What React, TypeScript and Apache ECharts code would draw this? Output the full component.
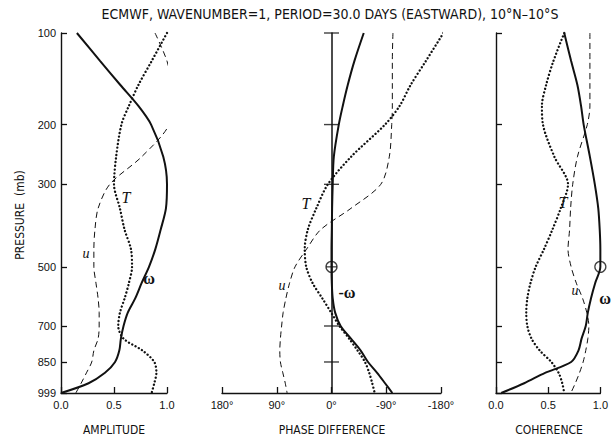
import React, { useEffect, useRef } from 'react';
import * as echarts from 'echarts';

// pressure levels (mb) at which curves were read
const PRESSURE = [100, 125, 150, 175, 200, 250, 300, 350, 400, 450, 500, 550, 600, 650, 700, 750, 800, 850, 900, 950, 999];
const PRESSURE_TICKS = [100, 200, 300, 500, 700, 850, 999];
const PHASE_BAR_TICKS = [100, 200, 300, 700, 850];
const REF_LEVEL = [500];

// AMPLITUDE
const ampOmega = [0.15, 0.37, 0.56, 0.73, 0.85, 0.965, 1.0, 0.99, 0.94, 0.89, 0.83, 0.76, 0.7, 0.63, 0.59, 0.565, 0.55, 0.51, 0.415, 0.26, 0.0];
const ampT = [1.0, 0.855, 0.73, 0.64, 0.57, 0.52, 0.5, 0.556, 0.6, 0.66, 0.67, 0.64, 0.6, 0.556, 0.54, 0.59, 0.77, 0.88, 0.9, 0.88, 0.855];
const ampU = [0.887, 1.0, 1.04, 1.04, 1.02, 0.76, 0.46, 0.35, 0.32, 0.31, 0.31, 0.33, 0.35, 0.36, 0.36, 0.35, 0.31, 0.29, 0.24, 0.19, 0.14];

// PHASE DIFFERENCE (degrees)
const phOmega = [-53, -37.6, -26.7, -18.5, -12, -3.8, -2, -1, -0.5, 0, 0, -0.5, -2, -6, -15, -32, -48, -60, -75, -88, -100];
const phT = [-184, -155, -130, -112, -88, -32, 6, 25, 39, 44, 41.5, 31, 15, 0.5, -13, -29, -43, -55, -62, -67, -71];
const phU = [-101, -100, -100, -100, -99, -95, -81, -32, 18, 41, 60, 69, 75, 79.5, 82, 84, 85, 84, 80, 76, 73];

// COHERENCE
const cohOmega = [0.654, 0.72, 0.78, 0.815, 0.84, 0.9, 0.947, 0.98, 0.994, 1.0, 1.0, 0.95, 0.91, 0.88, 0.86, 0.82, 0.79, 0.72, 0.47, 0.27, 0.05];
const cohT = [0.654, 0.55, 0.48, 0.44, 0.45, 0.56, 0.69, 0.62, 0.54, 0.46, 0.38, 0.33, 0.3, 0.29, 0.3, 0.34, 0.42, 0.53, 0.6, 0.635, 0.654];
const cohU = [0.9, 0.9, 0.9, 0.9, 0.875, 0.78, 0.735, 0.715, 0.705, 0.69, 0.72, 0.77, 0.83, 0.87, 0.89, 0.88, 0.86, 0.835, 0.8, 0.76, 0.717];

const AMP_TICKS = [0, 0.5, 1];
const PHASE_TICKS = [180, 90, 0, -90, -180];

const TITLE = 'ECMWF, WAVENUMBER=1, PERIOD=30.0 DAYS (EASTWARD), 10°N–10°S';

// vertical scale of the original figure: p^0.2
const kp = (p: number) => Math.pow(p, 0.2);
const Y_MIN = kp(100);
const Y_MAX = kp(999);

const INK = '#111';
const SANS = "'Liberation Sans Narrow', 'DejaVu Sans Condensed', 'Liberation Sans', Arial, sans-serif";
const LABEL_FONT = "'Liberation Sans', Arial, sans-serif";
const SERIF = "'Liberation Serif', 'DejaVu Serif', serif";

const solid = { type: 'solid', width: 2, color: INK };
const dashed = { type: [6, 4], width: 1, color: INK };
const dotted = { type: [0.1, 3.6], width: 2.3, cap: 'round', color: INK };

function curve(grid: number, vals: number[], style: any) {
  return {
    type: 'line',
    xAxisIndex: grid,
    yAxisIndex: grid,
    data: PRESSURE.map((p, i) => [vals[i], kp(p)]),
    showSymbol: false,
    smooth: 0.3,
    clip: false,
    lineStyle: style,
    silent: true,
  };
}

function yAxis(grid: number) {
  return {
    type: 'value',
    gridIndex: grid,
    inverse: true,
    min: Y_MIN,
    max: Y_MAX,
    axisLine: { show: true, onZero: grid === 1, lineStyle: { color: INK, width: grid === 1 ? 1.5 : 1.4 } },
    axisTick: {
      show: grid !== 1,
      inside: true,
      length: 6,
      customValues: PRESSURE_TICKS.map(kp),
      lineStyle: { color: INK, width: 1.3 },
    },
    axisLabel: {
      show: grid === 0,
      customValues: PRESSURE_TICKS.map(kp),
      formatter: (v: number) => String(Math.round(Math.pow(v, 5))),
      fontSize: 11,
      fontFamily: LABEL_FONT,
      color: INK,
      margin: 5,
    },
    splitLine: { show: false },
  };
}

function xAxis(grid: number, min: number, max: number, interval: number, inverse: boolean, fmt: (v: number) => string) {
  return {
    type: 'value',
    gridIndex: grid,
    min,
    max,
    interval,
    inverse,
    axisLine: { show: true, onZero: false, lineStyle: { color: INK, width: 1.4 } },
    axisTick: { show: true, inside: true, length: 6, lineStyle: { color: INK, width: 1.3 } },
    axisLabel: { formatter: fmt, fontSize: 11, fontFamily: LABEL_FONT, color: INK, margin: 6 },
    splitLine: { show: false },
  };
}

function text(t: string, x: number, y: number, font: any, extra: any = {}) {
  return {
    type: 'text',
    x,
    y,
    silent: true,
    ...extra,
    style: {
      text: t,
      fill: INK,
      align: 'center',
      verticalAlign: 'middle',
      textAlign: 'center',
      textVerticalAlign: 'middle',
      ...font,
    },
  };
}

export default function App() {
  const ref = useRef<HTMLDivElement>(null);
  useEffect(() => {
    if (!ref.current) return;
    const chart = echarts.init(ref.current, undefined, { renderer: 'svg' });
    const option: any = {
      animation: false,
      backgroundColor: '#fff',
      grid: [
        { left: 61, top: 33, width: 106, height: 360 },
        { left: 222, top: 33, width: 219, height: 360 },
        { left: 496, top: 33, width: 107, height: 360 },
      ],
      xAxis: [
        xAxis(0, AMP_TICKS[0], AMP_TICKS[2], 0.5, false, (v) => v.toFixed(1)),
        xAxis(1, PHASE_TICKS[4], PHASE_TICKS[0], 90, true, (v) => `${v}°`),
        xAxis(2, AMP_TICKS[0], AMP_TICKS[2], 0.5, false, (v) => v.toFixed(1)),
      ],
      yAxis: [yAxis(0), yAxis(1), yAxis(2)],
      series: [
        curve(0, ampOmega, solid),
        curve(0, ampT, dotted),
        curve(0, ampU, dashed),
        curve(1, phOmega, solid),
        curve(1, phT, dotted),
        curve(1, phU, dashed),
        curve(2, cohOmega, solid),
        curve(2, cohT, dotted),
        curve(2, cohU, dashed),
        {
          type: 'scatter',
          xAxisIndex: 1,
          yAxisIndex: 1,
          symbol: 'rect',
          symbolSize: [15, 1.4],
          itemStyle: { color: INK },
          data: PHASE_BAR_TICKS.map((p) => [0, kp(p)]),
          silent: true,
          z: 5,
        },
        {
          type: 'scatter',
          xAxisIndex: 1,
          yAxisIndex: 1,
          symbol: 'rect',
          symbolSize: [11, 1.3],
          itemStyle: { color: INK },
          data: REF_LEVEL.map((p) => [0, kp(p)]),
          silent: true,
          z: 5,
        },
        {
          type: 'scatter',
          xAxisIndex: 1,
          yAxisIndex: 1,
          symbol: 'circle',
          symbolSize: 11,
          itemStyle: { color: 'rgba(0,0,0,0)', borderColor: INK, borderWidth: 1.3 },
          data: REF_LEVEL.map((p) => [0, kp(p)]),
          silent: true,
          z: 5,
        },
        {
          type: 'scatter',
          xAxisIndex: 2,
          yAxisIndex: 2,
          symbol: 'circle',
          symbolSize: 11,
          itemStyle: { color: 'rgba(0,0,0,0)', borderColor: INK, borderWidth: 1.3 },
          data: REF_LEVEL.map((p) => [1, kp(p)]),
          silent: true,
          z: 5,
        },
      ],
      graphic: [
        text(TITLE, 330, 14, { fontSize: 14, fontFamily: SANS }),
        text('PRESSURE  (mb)', 20, 215, { fontSize: 12, fontFamily: SANS }, { rotation: Math.PI / 2 }),
        text('AMPLITUDE', 114, 430, { fontSize: 12, fontFamily: SANS }),
        text('PHASE DIFFERENCE', 332, 430, { fontSize: 12, fontFamily: SANS }),
        text('COHERENCE', 549, 430, { fontSize: 12, fontFamily: SANS }),
        text('T', 126, 197, { fontSize: 16, fontFamily: SERIF, fontStyle: 'italic' }),
        text('u', 86, 253, { fontSize: 14, fontFamily: SERIF, fontStyle: 'italic' }),
        text('ω', 149, 278, { fontSize: 16, fontFamily: SERIF, fontWeight: 'bold' }),
        text('T', 306, 203, { fontSize: 16, fontFamily: SERIF, fontStyle: 'italic' }),
        text('u', 282, 285, { fontSize: 14, fontFamily: SERIF, fontStyle: 'italic' }),
        text('-ω', 347, 292, { fontSize: 16, fontFamily: SERIF, fontWeight: 'bold' }),
        text('T', 563, 202, { fontSize: 16, fontFamily: SERIF, fontStyle: 'italic' }),
        text('u', 575, 290, { fontSize: 14, fontFamily: SERIF, fontStyle: 'italic' }),
        text('ω', 605, 298, { fontSize: 16, fontFamily: SERIF, fontWeight: 'bold' }),
      ],
    };
    chart.setOption(option);
    return () => chart.dispose();
  }, []);
  return (
    <div
      ref={ref}
      style={{ position: 'fixed', left: 0, top: 0, width: 611, height: 439, background: '#fff' }}
    />
  );
}
